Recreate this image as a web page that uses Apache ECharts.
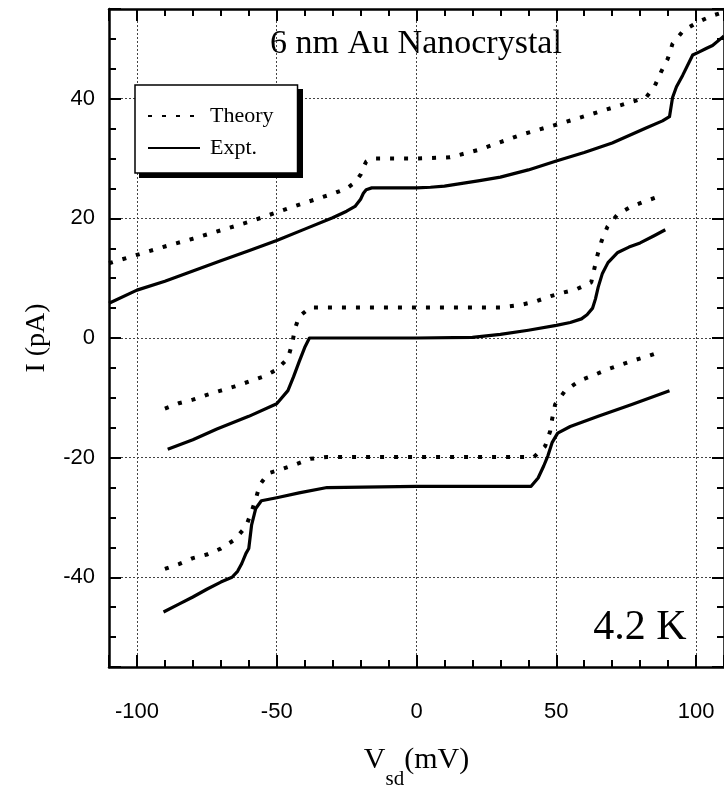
<!DOCTYPE html>
<html>
<head>
<meta charset="utf-8">
<script src="https://cdn.jsdelivr.net/npm/echarts@6/dist/echarts.min.js"></script>
<style>
  html, body { margin: 0; padding: 0; background: #fff; }
  #chart { width: 724px; height: 795px; }
</style>
</head>
<body>
<div id="chart"></div>
<script>
// axis ranges
const xRange = [-110, 110]
const yRange = [-55, 55]

// upper pair (offset +25 pA)
const topTheory = [
  [-110, 12.5], [-100, 13.9], [-90, 15.3], [-80, 16.6], [-70, 18.0], [-60, 19.4],
  [-50, 21.0], [-40, 22.6], [-30, 24.1], [-25, 25.0], [-22, 26.0], [-20, 27.3],
  [-19, 28.5], [-18, 29.5], [-16, 30.0], [0, 30.0], [12, 30.2], [22.6, 31.5],
  [37.5, 34.0], [51.8, 35.9], [67.3, 38.1], [82.1, 40.2], [85.1, 42.0], [87.5, 44.5],
  [89.9, 46.7], [91.6, 49.2], [95.5, 51.4], [100.6, 52.8], [105.9, 53.9], [110, 54.5]
]
const topExpt = [
  [-110, 5.8], [-100, 8.0], [-90, 9.5], [-80, 11.2], [-70, 12.9], [-60, 14.6],
  [-50, 16.3], [-40, 18.2], [-30, 20.1], [-25, 21.2], [-22, 22.0], [-20, 23.2],
  [-19, 24.2], [-18, 24.8], [-16, 25.1], [0, 25.1], [5, 25.2], [10, 25.4],
  [22.6, 26.3], [30, 26.9], [40, 28.1], [50, 29.6], [60, 31.0], [70, 32.6],
  [82.1, 35.1], [88, 36.3], [90.5, 37.0], [91.6, 40.2], [93, 42.0], [95.2, 43.9],
  [98.8, 47.3], [101, 47.8], [103.6, 48.4], [105.9, 48.9], [109.5, 50.3], [110, 50.5]
]

// middle pair (offset 0 pA)
const midTheory = [
  [-90, -11.8], [-85, -10.9], [-80, -10.3], [-75, -9.5], [-70, -8.8], [-65, -8.1],
  [-60, -7.3], [-55, -6.5], [-50, -5.3], [-46, -3.4], [-44.5, -1.0], [-43.5, 1.5],
  [-42, 3.6], [-38, 5.1], [0, 5.1], [30, 5.1], [37, 5.5], [42.5, 6.1], [48, 7.0],
  [52.5, 7.6], [57, 8.1], [62.5, 9.3], [64.7, 13.8], [66.2, 16.2], [68.3, 18.6],
  [72, 20.7], [77, 22.0], [82, 22.9], [87, 23.7]
]
const midExpt = [
  [-89, -18.6], [-80, -17.0], [-71.4, -15.2], [-60, -13.1], [-50, -11.0], [-46, -8.8],
  [-44, -6.5], [-42, -4.0], [-40, -1.6], [-38.3, 0], [-30, 0], [0, 0], [20, 0.1],
  [30, 0.6], [40, 1.3], [50, 2.1], [55, 2.6], [59, 3.2], [61, 3.9], [63, 5.0],
  [64, 6.5], [65, 8.5], [66.5, 10.8], [68.5, 12.6], [72, 14.3], [76, 15.2],
  [80, 15.9], [85, 17.1], [89, 18.1]
]

// lower pair (offset -25 pA)
const lowTheory = [
  [-90, -38.6], [-85, -37.8], [-80, -36.8], [-75, -36.2], [-70, -35.2], [-65, -33.7],
  [-61, -31.5], [-59, -29.0], [-57.5, -26.9], [-56, -24.5], [-53, -22.6], [-48, -21.9],
  [-43, -21.1], [-38, -20.2], [-32, -19.9], [0, -19.9], [42, -19.9], [46, -18.1],
  [47.8, -15.6], [48.5, -13.6], [49.6, -11.1], [53.2, -8.8], [58.5, -7.1], [63, -6.3],
  [68, -5.3], [73, -4.5], [78, -3.7], [83, -3.0], [88, -2.2]
]
const lowExpt = [
  [-90.5, -45.8], [-85, -44.5], [-80, -43.3], [-75, -42.0], [-70, -40.8], [-66, -40.0],
  [-64, -39.0], [-62.5, -37.7], [-61, -36.0], [-60, -35.2], [-59, -31.3], [-57.5, -28.5],
  [-55.5, -27.2], [-50, -26.7], [-42, -25.9], [-32, -25.0], [0, -24.8], [41, -24.8],
  [43.5, -23.4], [45.5, -21.4], [47, -19.7], [48.5, -17.5], [50.5, -15.9], [55, -14.8],
  [65, -13.1], [77, -11.1], [90.5, -8.8]
]

const serif = 'Liberation Serif'
const sans = 'Liberation Sans'

const theoryStyle = { color: '#000', width: 4, type: [4, 10] }
const exptStyle = { color: '#000', width: 3.2, type: 'solid', join: 'round' }

const makeLine = (name, data, lineStyle) => ({
  name: name,
  type: 'line',
  data: data,
  symbol: 'none',
  silent: true,
  animation: false,
  itemStyle: { color: '#000' },
  lineStyle: lineStyle
})

const chart = echarts.init(document.getElementById('chart'))

const tickStyle = { inside: true, length: 12, lineStyle: { color: '#000', width: 2 } }
const minorStyle = { show: true, length: 7, lineStyle: { color: '#000', width: 2 } }
const gridLine = { show: true, lineStyle: { color: '#444', width: 1, type: [2, 2] } }
const axisLine = { show: true, onZero: false, lineStyle: { color: '#000', width: 2.5 } }

const option = {
  animation: false,
  backgroundColor: '#fff',
  grid: { left: 109, top: 9, width: 616, height: 664 },
  legend: {
    orient: 'vertical',
    left: 135,
    top: 85,
    z: 10,
    data: ['Theory', 'Expt.'],
    itemWidth: 52,
    itemHeight: 20,
    itemGap: 10,
    padding: [20, 24, 14, 12],
    backgroundColor: '#fff',
    borderColor: '#000',
    borderWidth: 1.5,
    selectedMode: false,
    itemStyle: { opacity: 0 },
    textStyle: { fontFamily: serif, fontSize: 22, color: '#000', padding: [0, 0, 0, 5] }
  },
  xAxis: [
    {
      type: 'value',
      min: xRange[0],
      max: xRange[1],
      splitNumber: 5,
      name: '{v|V}{s|sd}{v|(mV)}',
      nameLocation: 'middle',
      nameGap: 78,
      nameTextStyle: {
        rich: {
          v: { fontFamily: serif, fontSize: 30, color: '#000', verticalAlign: 'top' },
          s: { fontFamily: serif, fontSize: 21, color: '#000', padding: [24, 0, 0, 0] }
        }
      },
      axisLine: axisLine,
      axisTick: tickStyle,
      minorTick: Object.assign({ splitNumber: 5 }, minorStyle),
      splitLine: gridLine,
      axisLabel: {
        showMinLabel: false,
        showMaxLabel: false,
        margin: 34,
        fontFamily: sans,
        fontSize: 22,
        color: '#000'
      }
    },
    {
      type: 'value',
      position: 'top',
      min: xRange[0],
      max: xRange[1],
      splitNumber: 5,
      axisLine: axisLine,
      axisTick: tickStyle,
      minorTick: Object.assign({ splitNumber: 5 }, minorStyle),
      splitLine: { show: false },
      axisLabel: { show: false }
    }
  ],
  yAxis: [
    {
      type: 'value',
      min: yRange[0],
      max: yRange[1],
      splitNumber: 5,
      name: 'I (pA)',
      nameLocation: 'middle',
      nameGap: 58,
      nameTextStyle: { fontFamily: serif, fontSize: 28, color: '#000' },
      axisLine: axisLine,
      axisTick: tickStyle,
      minorTick: Object.assign({ splitNumber: 4 }, minorStyle),
      splitLine: gridLine,
      axisLabel: {
        showMinLabel: false,
        showMaxLabel: false,
        margin: 14,
        fontFamily: sans,
        fontSize: 22,
        color: '#000'
      }
    },
    {
      type: 'value',
      position: 'right',
      min: yRange[0],
      max: yRange[1],
      splitNumber: 5,
      axisLine: axisLine,
      axisTick: tickStyle,
      minorTick: Object.assign({ splitNumber: 4 }, minorStyle),
      splitLine: { show: false },
      axisLabel: { show: false }
    }
  ],
  series: [
    makeLine('Theory', topTheory, theoryStyle),
    makeLine('Expt.', topExpt, exptStyle),
    makeLine('Theory', midTheory, theoryStyle),
    makeLine('Expt.', midExpt, exptStyle),
    makeLine('Theory', lowTheory, theoryStyle),
    makeLine('Expt.', lowExpt, exptStyle)
  ],
  graphic: [
    {
      // drop shadow of the legend box
      type: 'rect',
      z: 5,
      shape: { x: 139, y: 89, width: 164, height: 89 },
      style: { fill: '#000' }
    },
    {
      type: 'text',
      x: 416,
      y: 44,
      style: {
        text: '6 nm Au Nanocrystal',
        font: '34px "Liberation Serif"',
        fill: '#000',
        align: 'center',
        verticalAlign: 'middle'
      }
    },
    {
      type: 'text',
      x: 640,
      y: 628,
      style: {
        text: '4.2 K',
        font: '42px "Liberation Serif"',
        fill: '#000',
        align: 'center',
        verticalAlign: 'middle'
      }
    }
  ]
}

chart.setOption(option)
</script>
</body>
</html>
